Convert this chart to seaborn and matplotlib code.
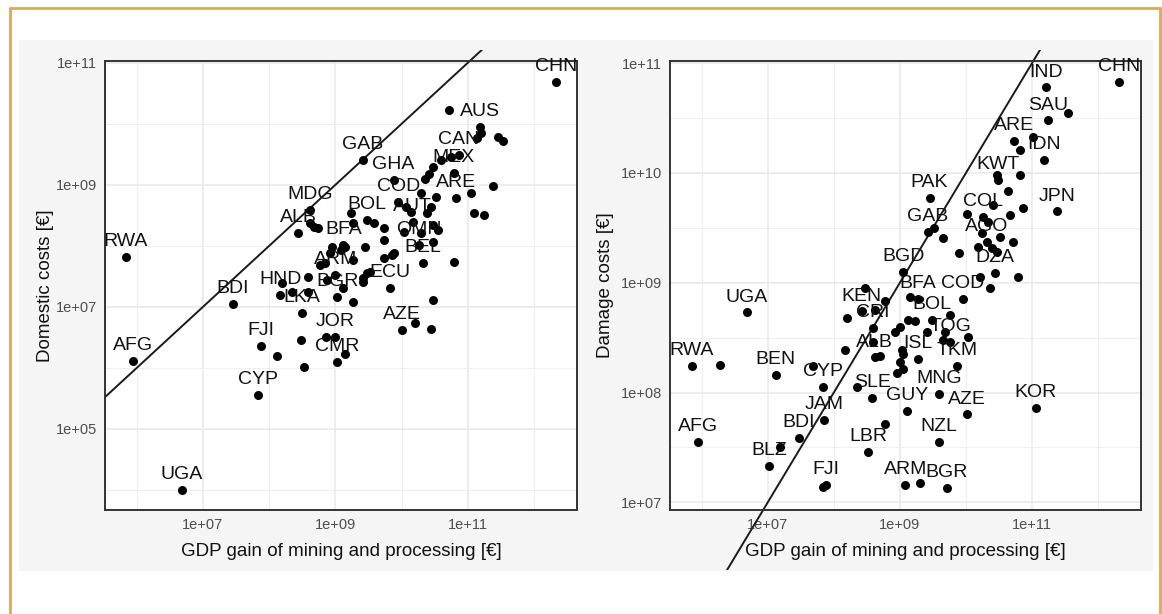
import numpy as np
import pandas as pd
import matplotlib
matplotlib.use('Agg')
import matplotlib.pyplot as plt
from matplotlib.patches import Rectangle
from matplotlib.lines import Line2D
from matplotlib.ticker import NullFormatter
from matplotlib.transforms import Bbox, TransformedBbox
import seaborn as sns

# values (stored as log10 of the euro amounts)
# left panel: domestic costs, labelled countries
left_codes = ['CHN', 'AUS', 'CAN', 'MEX', 'ARE', 'GAB', 'GHA', 'COD', 'MDG', 'ALB',
              'BOL', 'BFA', 'AUT', 'OMN', 'BEL', 'ECU', 'ARM', 'BGR', 'HND', 'LKA',
              'JOR', 'CMR', 'AZE', 'FJI', 'CYP', 'AFG', 'UGA', 'RWA', 'BDI']
left_gdp = [12.33, 11.18, 10.86, 10.79, 10.82, 9.41, 9.88, 9.95, 8.62, 8.44,
            9.48, 9.12, 10.17, 10.26, 10.32, 9.83, 9.00, 9.03, 8.17, 8.50,
            9.00, 9.02, 10.00, 7.88, 7.83, 5.94, 6.68, 5.83, 7.45]
left_cost = [10.69, 9.95, 9.49, 9.20, 8.79, 9.41, 9.08, 8.72, 8.59, 8.21,
             8.43, 8.02, 8.39, 8.02, 7.72, 7.31, 7.52, 7.16, 7.20, 6.90,
             6.51, 6.10, 6.62, 6.36, 5.56, 6.11, 4.00, 7.82, 7.05]
# left panel: unlabelled countries
left_other_gdp = [10.71, 11.20, 11.14, 11.45, 11.53, 10.74, 10.59, 10.48, 10.41, 10.36,
                  11.38, 11.05, 11.09, 11.24, 10.29, 10.06, 10.14, 10.52, 10.44, 10.39,
                  10.48, 10.55, 10.29, 10.03, 10.48, 10.79, 9.58, 9.73, 9.73, 9.23,
                  9.27, 9.88, 9.73, 9.53, 9.42, 8.92, 9.08, 9.26, 8.62, 8.67,
                  8.74, 8.95, 8.77, 8.58, 8.20, 8.35, 8.59, 8.88, 8.48, 8.53,
                  8.12, 8.86, 9.15, 9.12, 9.26, 9.42, 10.21, 10.44, 10.47, 9.86,
                  9.44, 9.48, 8.85, 9.14]
left_other_cost = [10.23, 9.85, 9.77, 9.79, 9.72, 9.46, 9.41, 9.30, 9.18, 9.10,
                   8.98, 8.87, 8.54, 8.51, 8.87, 8.64, 8.56, 8.80, 8.64, 8.54,
                   8.34, 8.26, 8.21, 8.23, 8.07, 7.74, 8.38, 8.30, 8.10, 8.54,
                   8.38, 7.89, 7.80, 7.57, 7.48, 7.89, 7.93, 7.77, 8.38, 8.31,
                   8.30, 7.98, 7.69, 7.49, 7.39, 7.25, 7.25, 7.44, 6.46, 6.02,
                   6.20, 6.51, 6.23, 7.31, 7.08, 7.41, 6.74, 6.64, 7.11, 7.85,
                   7.98, 7.56, 7.72, 7.98]

# right panel: damage costs, labelled countries
right_codes = ['CHN', 'IND', 'SAU', 'ARE', 'IDN', 'KWT', 'JPN', 'PAK', 'GAB', 'COL',
               'AGO', 'DZA', 'BGD', 'BFA', 'COD', 'BOL', 'KEN', 'CRI', 'TOG', 'ALB',
               'ISL', 'TKM', 'MNG', 'AZE', 'KOR', 'NZL', 'ARM', 'BGR', 'GUY', 'SLE',
               'LBR', 'JAM', 'CYP', 'BDI', 'BLZ', 'FJI', 'BEN', 'UGA', 'RWA', 'AFG']
right_gdp = [12.32, 11.21, 11.24, 10.73, 11.18, 10.48, 11.38, 9.45, 9.42, 10.26,
             10.32, 10.44, 9.05, 9.27, 9.95, 9.48, 8.42, 8.59, 9.76, 8.62,
             9.27, 9.86, 9.59, 10.02, 11.06, 9.59, 9.08, 9.71, 9.11, 8.58,
             8.52, 7.85, 7.83, 7.47, 7.02, 7.88, 7.12, 6.68, 5.85, 5.94]
right_damage = [10.83, 10.78, 10.48, 10.29, 10.12, 9.94, 9.65, 9.77, 9.46, 9.60,
                9.37, 9.09, 9.10, 8.85, 8.85, 8.66, 8.74, 8.59, 8.46, 8.32,
                8.31, 8.24, 7.99, 7.80, 7.86, 7.55, 7.16, 7.13, 7.83, 7.95,
                7.46, 7.75, 8.05, 7.59, 7.33, 7.16, 8.16, 8.73, 8.24, 7.55]
# right panel: unlabelled countries
right_other_gdp = [11.55, 11.02, 10.82, 10.82, 10.47, 10.64, 10.86, 10.67, 10.41, 10.02,
                   10.33, 10.24, 10.52, 10.71, 10.18, 10.39, 10.47, 9.89, 9.52, 9.65,
                   10.79, 10.36, 10.21, 9.15, 8.77, 8.62, 8.47, 8.20, 9.12, 9.23,
                   9.76, 9.68, 9.41, 9.65, 10.03, 9.00, 8.92, 8.59, 8.70, 9.03,
                   9.05, 9.00, 9.05, 8.95, 8.17, 7.68, 6.27, 8.35, 8.77, 7.18,
                   7.83, 9.30]
right_other_damage = [10.55, 10.33, 10.21, 9.98, 9.98, 9.84, 9.68, 9.62, 9.71, 9.63,
                      9.55, 9.45, 9.42, 9.37, 9.33, 9.32, 9.28, 9.27, 9.50, 9.41,
                      9.05, 8.95, 9.05, 8.87, 8.83, 8.75, 8.95, 8.68, 8.66, 8.65,
                      8.71, 8.55, 8.55, 8.48, 8.51, 8.60, 8.55, 8.46, 8.33, 8.39,
                      8.35, 8.28, 8.21, 8.18, 8.39, 8.24, 8.25, 8.05, 7.71, 7.50,
                      7.14, 7.18]

x_ticks = [1e7, 1e9, 1e11]
x_ticklabels = ['1e+07', '1e+09', '1e+11']
left_y_ticks = [1e5, 1e7, 1e9, 1e11]
left_y_ticklabels = ['1e+05', '1e+07', '1e+09', '1e+11']
right_y_ticks = [1e7, 1e8, 1e9, 1e10, 1e11]
right_y_ticklabels = ['1e+07', '1e+08', '1e+09', '1e+10', '1e+11']
identity = [1e3, 1e13]

W, H = 1162, 614


def fx(px):
    return px / W


def fy(py):
    return 1 - py / H


def draw_panel(fig, ax, codes, gdp, cost, other_gdp, other_cost, ylabel,
               ylim, yticks, yticklabels, yminor, clip_px, ylabel_x):
    df = pd.DataFrame({
        'gdp': 10 ** np.array(gdp + other_gdp),
        'cost': 10 ** np.array(cost + other_cost),
    })
    ax.set_xscale('log')
    ax.set_yscale('log')
    ax.set_facecolor('white')
    sns.scatterplot(data=df, x='gdp', y='cost', ax=ax, color='black', s=42,
                    linewidth=0, zorder=3, legend=False)
    for c, x, y in zip(codes, gdp, cost):
        ax.annotate(c, (10 ** x, 10 ** y), xytext=(0, 11), textcoords='offset points',
                    ha='center', va='center', fontsize=14, color='#111111',
                    annotation_clip=False, zorder=4)

    # 1:1 reference line, allowed to run past the panel like in the original
    line, = ax.plot(identity, identity, color='#1a1a1a', lw=1.4, zorder=2)
    x0, x1, y0, y1 = clip_px
    line.set_clip_box(TransformedBbox(Bbox.from_extents(fx(x0), fy(y1), fx(x1), fy(y0)),
                                      fig.transFigure))

    ax.set_xlim(10 ** 5.52, 10 ** 12.65)
    ax.set_ylim(*ylim)
    ax.set_xticks(x_ticks)
    ax.set_xticklabels(x_ticklabels)
    ax.set_xticks([1e6, 1e8, 1e10, 1e12], minor=True)
    ax.set_yticks(yticks)
    ax.set_yticklabels(yticklabels)
    ax.set_yticks(yminor, minor=True)
    ax.xaxis.set_minor_formatter(NullFormatter())
    ax.yaxis.set_minor_formatter(NullFormatter())
    ax.grid(which='major', color='#e8e8e8', lw=1.1)
    ax.grid(which='minor', color='#ececec', lw=0.6)
    ax.set_axisbelow(True)
    ax.tick_params(which='major', length=3.5, width=0.9, color='#333333',
                   labelsize=10.5, labelcolor='#4d4d4d', pad=2)
    ax.tick_params(which='minor', length=0)
    for sp in ax.spines.values():
        sp.set_color('#333333')
        sp.set_linewidth(1.4)

    ax.set_xlabel('GDP gain of mining and processing [€]', fontsize=13.5, va='center',
                  color='#111111')
    ax.xaxis.set_label_coords(0.5, -0.0935)
    ax.set_ylabel(ylabel, fontsize=13.5, va='center', color='#111111')
    ax.yaxis.set_label_coords(ylabel_x, 0.5)


def main():
    sns.set_theme(style='white')
    plt.rcParams['font.family'] = ['Liberation Sans', 'DejaVu Sans']

    fig = plt.figure(figsize=(W / 100, H / 100), dpi=100)
    fig.patch.set_facecolor('white')

    # light grey plot area and the tan frame around it
    fig.patches.append(Rectangle((fx(19), fy(570)), (1152 - 19) / W, (570 - 40) / H,
                                 transform=fig.transFigure, color='#f5f5f5', zorder=-5))
    frame = '#d9aa5c'
    fig.add_artist(Line2D([fx(10), fx(10)], [fy(8), 0], color=frame, lw=2))
    fig.add_artist(Line2D([fx(10), fx(1160)], [fy(8), fy(8)], color=frame, lw=2))
    fig.add_artist(Line2D([fx(1160), fx(1160)], [fy(8), 0], color=frame, lw=2))

    ax1 = fig.add_axes([fx(105), fy(510), (577 - 105) / W, (510 - 61) / H])
    ax2 = fig.add_axes([fx(670), fy(510), (1141 - 670) / W, (510 - 61) / H])

    draw_panel(fig, ax1, left_codes, left_gdp, left_cost, left_other_gdp, left_other_cost,
               'Domestic costs [€]', (10 ** 3.67, 10 ** 11.03), left_y_ticks,
               left_y_ticklabels, [1e4, 1e6, 1e8, 1e10], (105, 577, 50, 570), -0.127)
    draw_panel(fig, ax2, right_codes, right_gdp, right_damage, right_other_gdp,
               right_other_damage, 'Damage costs [€]', (10 ** 6.93, 10 ** 11.02),
               right_y_ticks, right_y_ticklabels,
               [10 ** 7.5, 10 ** 8.5, 10 ** 9.5, 10 ** 10.5], (670, 1141, 50, 570), -0.138)

    fig.savefig('out.png', dpi=100)
    plt.close(fig)


if __name__ == '__main__':
    main()
